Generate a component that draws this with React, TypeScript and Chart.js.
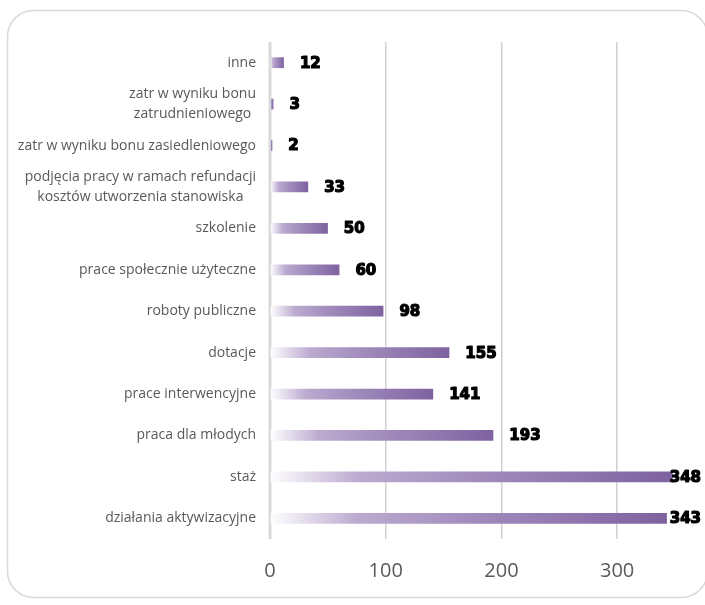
import { useEffect, useRef } from "react";
import { Chart, registerables } from "chart.js";

Chart.register(...registerables);

const categories: (string | string[])[] = [
  "inne",
  ["zatr w wyniku bonu", "zatrudnieniowego"],
  "zatr w wyniku bonu zasiedleniowego",
  ["podjęcia pracy w ramach refundacji", "kosztów utworzenia stanowiska"],
  "szkolenie",
  "prace społecznie użyteczne",
  "roboty publiczne",
  "dotacje",
  "prace interwencyjne",
  "praca dla młodych",
  "staż",
  "działania aktywizacyjne",
];
const values = [12, 3, 2, 33, 50, 60, 98, 155, 141, 193, 348, 343];
const xMin = 0;
const xMax = 350;
const xStep = 100;

const LABEL_FONT = '14px "Open Sans"';
const VALUE_FONT = 'bold 15px "DejaVu Sans"';

const framePlugin = {
  id: "frame",
  beforeDraw(chart: any) {
    const ctx = chart.ctx;
    ctx.save();
    ctx.fillStyle = "#ffffff";
    ctx.fillRect(0, 0, chart.width, chart.height);
    const x = 7.5, y = 10.5, w = 700, h = 587, r = 26;
    ctx.beginPath();
    ctx.moveTo(x + r, y);
    ctx.lineTo(x + w - r, y);
    ctx.arcTo(x + w, y, x + w, y + r, r);
    ctx.lineTo(x + w, y + h - r);
    ctx.arcTo(x + w, y + h, x + w - r, y + h, r);
    ctx.lineTo(x + r, y + h);
    ctx.arcTo(x, y + h, x, y + h - r, r);
    ctx.lineTo(x, y + r);
    ctx.arcTo(x, y, x + r, y, r);
    ctx.closePath();
    ctx.strokeStyle = "#d9d9d9";
    ctx.lineWidth = 1.5;
    ctx.stroke();
    ctx.restore();
  },
};

const zeroLinePlugin = {
  id: "zeroLine",
  beforeDatasetsDraw(chart: any) {
    const ctx = chart.ctx;
    const xs = chart.scales.x;
    const { top, bottom } = chart.chartArea;
    const x0 = xs.getPixelForValue(0);
    ctx.save();
    ctx.strokeStyle = "#d9d9d9";
    ctx.lineWidth = 3;
    ctx.beginPath();
    ctx.moveTo(x0, top);
    ctx.lineTo(x0, bottom);
    ctx.stroke();
    ctx.restore();
  },
};

const catLabelPlugin = {
  id: "catLabels",
  afterDraw(chart: any) {
    const ctx = chart.ctx;
    const ys = chart.scales.y;
    const right = 256;
    const lineH = 20;
    ctx.save();
    ctx.font = LABEL_FONT;
    ctx.fillStyle = "#595959";
    ctx.textBaseline = "middle";
    ctx.textAlign = "center";
    categories.forEach((c, i) => {
      const lines = Array.isArray(c) ? c : [c];
      const py = ys.getPixelForTick(i);
      const maxW = Math.max(...lines.map((l) => ctx.measureText(l).width));
      const cx = right - maxW / 2;
      lines.forEach((l, j) => {
        const ly = py + (j - (lines.length - 1) / 2) * lineH;
        ctx.fillText(l, cx, ly);
      });
    });
    ctx.restore();
  },
};

const valueLabelPlugin = {
  id: "valueLabels",
  afterDatasetsDraw(chart: any) {
    const ctx = chart.ctx;
    const meta = chart.getDatasetMeta(0);
    ctx.save();
    ctx.font = VALUE_FONT;
    ctx.fillStyle = "#000000";
    ctx.strokeStyle = "#000000";
    ctx.lineWidth = 1.2;
    ctx.lineJoin = "round";
    ctx.textBaseline = "middle";
    ctx.textAlign = "left";
    meta.data.forEach((bar: any, i: number) => {
      const txt = String(values[i]);
      const w = ctx.measureText(txt).width;
      const x = Math.min(bar.x + 16, 701 - w);
      ctx.strokeText(txt, x, bar.y + 1);
      ctx.fillText(txt, x, bar.y + 1);
    });
    ctx.restore();
  },
};

export default function App() {
  const ref = useRef<HTMLCanvasElement | null>(null);

  useEffect(() => {
    document.body.style.margin = "0";
    const canvas = ref.current;
    if (!canvas) return;
    const chart = new Chart(canvas, {
      type: "bar",
      data: {
        labels: categories as any,
        datasets: [
          {
            data: values,
            backgroundColor: (c: any) => {
              const ch = c.chart;
              if (!ch.chartArea || c.dataIndex === undefined) return "#8064a2";
              const xs = ch.scales.x;
              const x0 = xs.getPixelForValue(0);
              const x1 = xs.getPixelForValue(values[c.dataIndex]);
              const g = ch.ctx.createLinearGradient(x0, 0, Math.max(x1, x0 + 1), 0);
              g.addColorStop(0, "#ffffff");
              g.addColorStop(0.22, "#bcaad0");
              g.addColorStop(0.5, "#a28dbd");
              g.addColorStop(1, "#7e62a0");
              return g;
            },
            borderWidth: 0,
            categoryPercentage: 0.26,
            barPercentage: 1,
          },
        ],
      },
      options: {
        indexAxis: "y",
        animation: false,
        responsive: true,
        maintainAspectRatio: false,
        layout: { padding: { left: 270, right: 30, top: 42, bottom: 2 } },
        plugins: {
          legend: { display: false },
          tooltip: { enabled: false },
          title: { display: false },
        },
        scales: {
          x: {
            type: "linear",
            min: xMin,
            max: xMax,
            border: { display: false },
            grid: {
              drawTicks: false,
              color: (c: any) => (c.tick && c.tick.value === 0 ? "rgba(0,0,0,0)" : "#d0d0d0"),
              lineWidth: 1.5,
            },
            ticks: {
              stepSize: xStep,
              includeBounds: false,
              padding: 20,
              color: "#595959",
              font: { family: '"Open Sans"', size: 20 },
            },
          },
          y: {
            type: "category",
            display: false,
            grid: { display: false },
          },
        },
      },
      plugins: [framePlugin, zeroLinePlugin, catLabelPlugin, valueLabelPlugin],
    });
    return () => chart.destroy();
  }, []);

  return (
    <div style={{ width: 705, height: 605, position: "relative" }}>
      <canvas ref={ref} />
    </div>
  );
}
